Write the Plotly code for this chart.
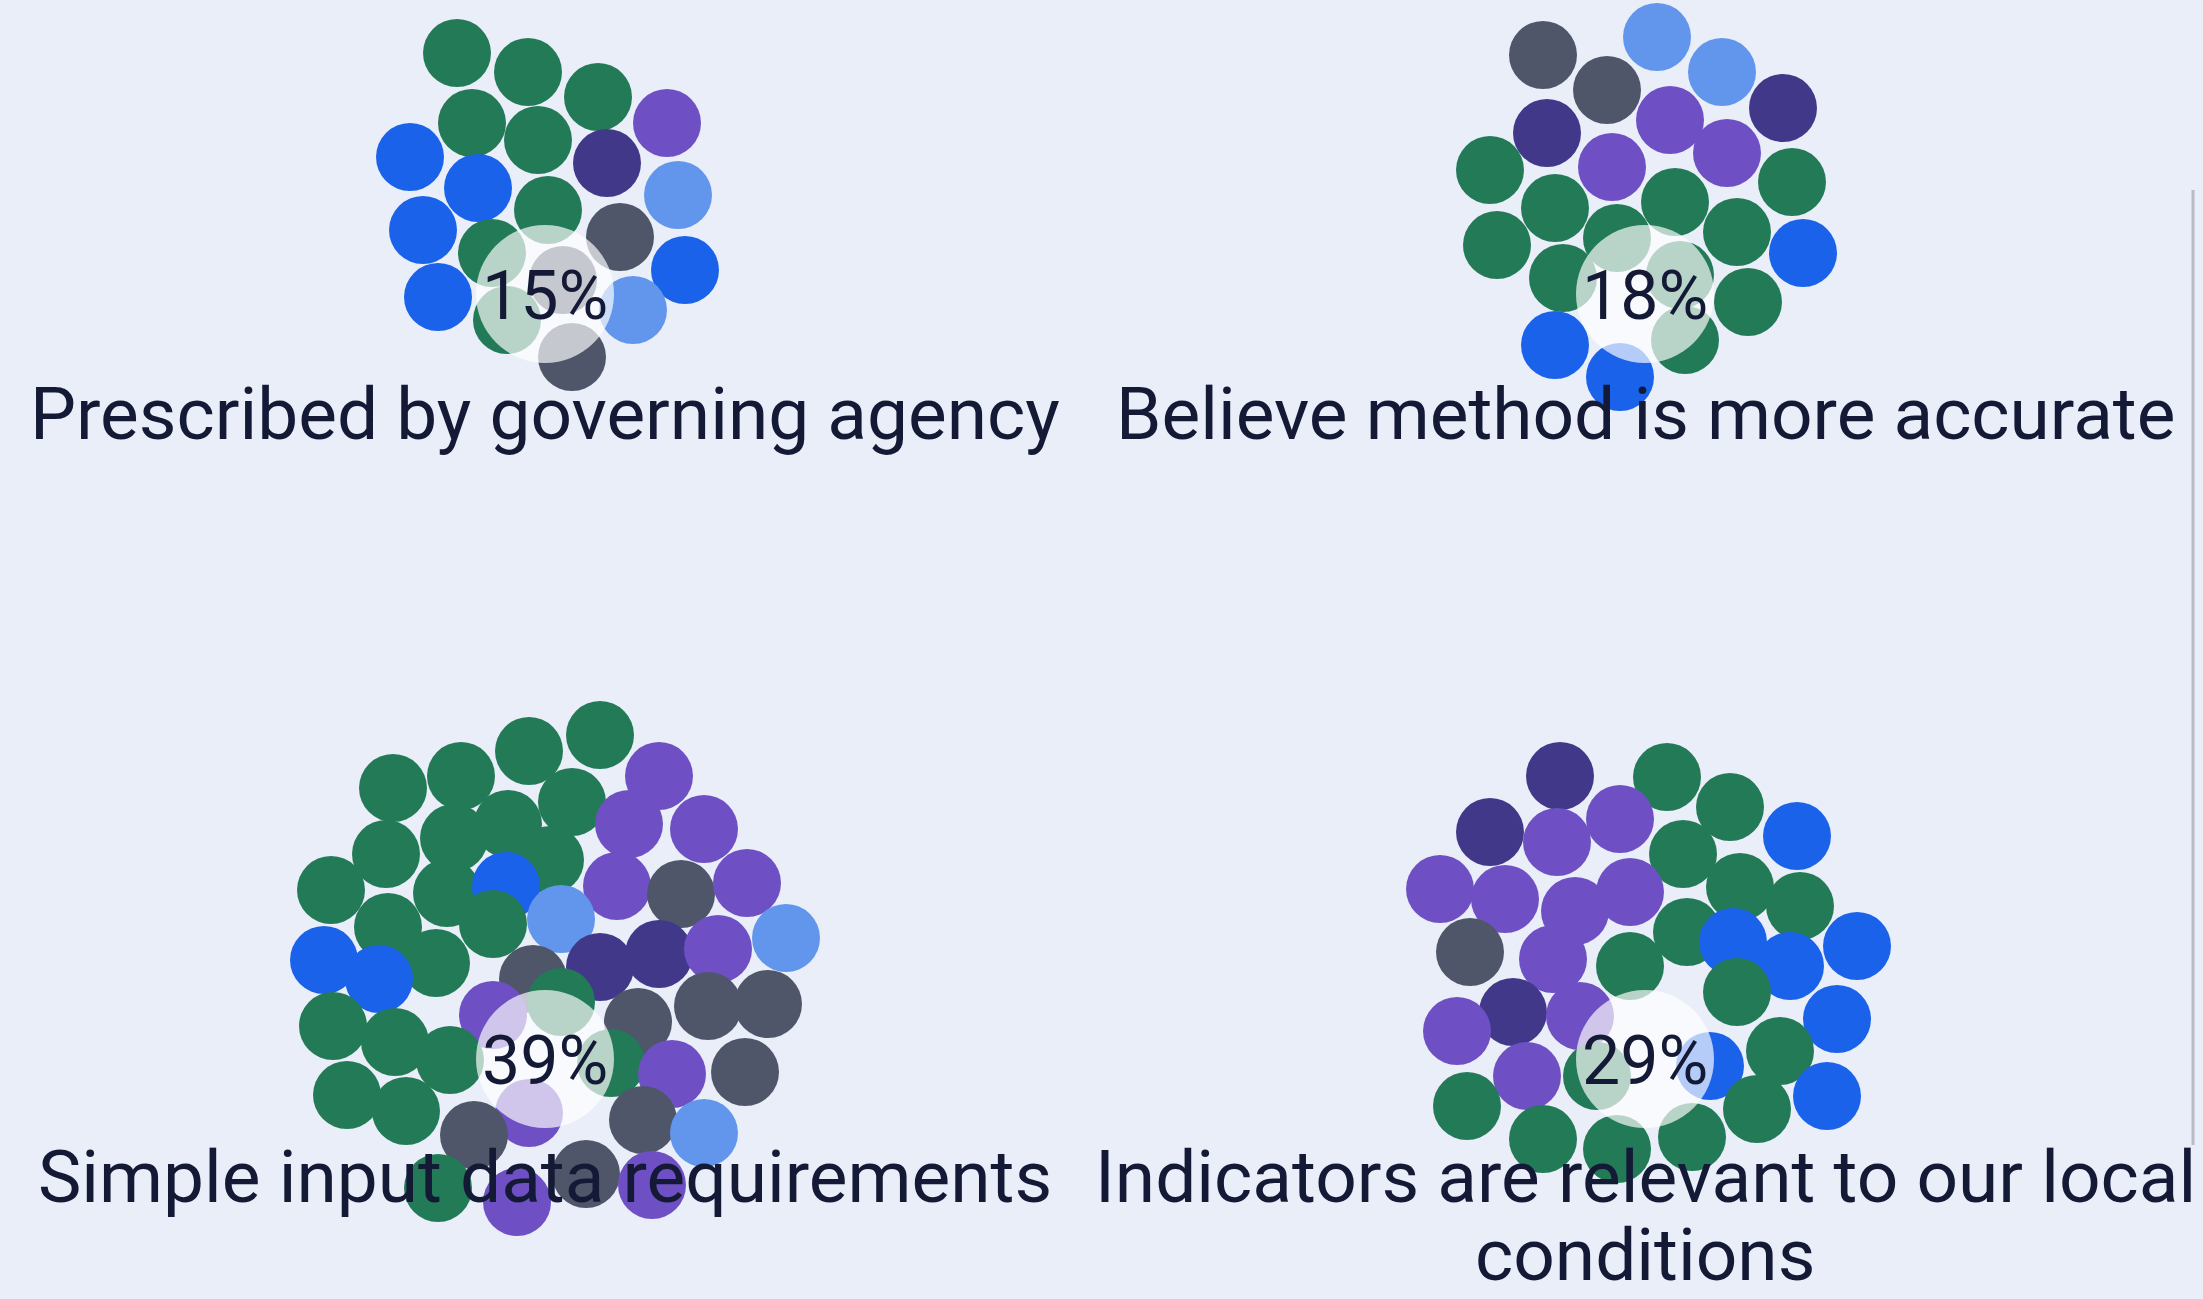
import plotly.graph_objects as go

# ---------------- data ----------------
categories = [
    "Prescribed by governing agency",
    "Believe method is more accurate",
    "Simple input data requirements",
    "Indicators are relevant to our local<br>conditions",
]
percent = [15, 18, 39, 29]

# bubble offsets (relative to each cluster's centre) and colour group
# G=green, B=blue, L=light blue, P=purple, D=dark purple, R=grey
c1_dx = [-88, -17, 53, 122, -73, -7, -135, 62, -67, 133, 3, -122, 75, -53, 140, 18, -107, 88, -38, 27]
c1_dy = [-241, -222, -197, -171, -171, -154, -137, -131, -106, -99, -84, -64, -57, -41, -24, -14, 3, 16, 26, 63]
c1_grp = ["G", "G", "G", "P", "G", "G", "B", "D", "B", "L", "G", "B", "R", "G", "B", "R", "B", "L", "G", "R"]

c2_dx = [-102, 12, -38, 77, -98, 25, 138, -33, 82, -155, -90, 30, 147, -148, -28, 92, 158, -82, 35, 103, -90, 40, -25]
c2_dy = [-239, -257, -204, -222, -161, -174, -186, -127, -141, -124, -86, -92, -112, -49, -56, -62, -41, -16, -19, 8, 51, 46, 83]
c2_grp = ["R", "L", "R", "L", "D", "P", "D", "P", "P", "G", "G", "G", "G", "G", "G", "G", "B", "G", "G", "G", "B", "G", "B"]

c3_dx = [55, -16, -84, -152, 114, 27, -37, -91, 84, 159, -159, 5, -214, -98, -39, 72, 136, 202, -157, -52,
         16, 241, -221, -109, 114, 173, 55, -12, -166, 16, -52, 93, 163, 223, -212, -150, -95, 66, 127, 200,
         -198, -139, -16, 98, -71, 159, 41, -107, -28, 107]
c3_dy = [-324, -308, -283, -271, -283, -257, -235, -221, -235, -230, -205, -199, -169, -166, -173, -173, -165, -176, -132, -135,
         -140, -121, -99, -96, -105, -110, -92, -80, -80, -57, -44, -37, -53, -55, -33, -17, 1, 4, 15, 13,
         36, 52, 54, 61, 76, 74, 115, 129, 143, 126]
c3_grp = ["G", "G", "G", "G", "P", "G", "G", "G", "P", "P", "G", "G", "G", "G", "B", "P", "R", "P", "G", "G",
          "L", "L", "B", "G", "D", "P", "D", "R", "B", "G", "P", "R", "R", "R", "G", "G", "G", "G", "P", "R",
          "G", "G", "P", "R", "R", "L", "R", "G", "P", "P"]

c4_dx = [-85, 22, -155, -88, -25, 85, 152, 38, -205, -140, -15, -70, 95, 155, -175, -92, 42, 88, 145, 212,
         -15, 92, -132, -188, -65, 192, 135, 65, -118, -48, -178, 182, 112, -102, -28, 47]
c4_dy = [-283, -282, -227, -217, -240, -252, -223, -205, -170, -160, -167, -148, -172, -153, -107, -100, -127, -117, -93, -113,
         -93, -67, -47, -28, -43, -40, -8, 7, 17, 17, 47, 37, 50, 80, 90, 78]
c4_grp = ["D", "G", "D", "P", "P", "G", "B", "G", "P", "P", "P", "P", "G", "G", "R", "P", "G", "B", "B", "B",
          "G", "G", "D", "P", "P", "B", "G", "B", "P", "G", "G", "B", "G", "G", "G", "G"]

# ---------------- style ----------------
W, H = 2203, 1299
BG = "#e9eef8"
TEXT = "#141a36"
FONT = "Roboto"
palette = {
    "G": "#237a57",
    "B": "#1a62ea",
    "L": "#6196ec",
    "P": "#6e50c4",
    "D": "#41388a",
    "R": "#4f5669",
}
col_x = [545, 1645]
row_y = [294, 1059]
BUBBLE = 68
CORE = 138

clusters = [
    (c1_dx, c1_dy, c1_grp),
    (c2_dx, c2_dy, c2_grp),
    (c3_dx, c3_dy, c3_grp),
    (c4_dx, c4_dy, c4_grp),
]

fig = go.Figure()
annotations = []
label_dy = [120, 120, 118, 118]
for i, (dx, dy, grp) in enumerate(clusters):
    cx = col_x[i % 2]
    cy = row_y[i // 2]
    fig.add_trace(go.Scatter(
        x=[cx + v for v in dx], y=[cy + v for v in dy],
        mode="markers",
        marker=dict(size=BUBBLE, color=[palette[g] for g in grp], line=dict(width=0), opacity=1),
        hoverinfo="skip", showlegend=False,
    ))
    fig.add_trace(go.Scatter(
        x=[cx], y=[cy], mode="markers",
        marker=dict(size=CORE, color="rgba(255,255,255,0.68)", line=dict(width=0)),
        hoverinfo="skip", showlegend=False,
    ))
    annotations.append(dict(
        x=cx, y=cy + 2, xref="x", yref="y", text=f"{percent[i]}%", showarrow=False,
        font=dict(family=FONT, size=68, color=TEXT), xanchor="center", yanchor="middle",
    ))
    lines = categories[i].split("<br>")
    for k, line in enumerate(lines):
        annotations.append(dict(
            x=cx, y=cy + label_dy[i] + k * 78, xref="x", yref="y", text=line, showarrow=False,
            font=dict(family=FONT, size=73, color=TEXT), xanchor="center", yanchor="middle",
        ))

fig.update_layout(
    width=W, height=H,
    margin=dict(l=0, r=0, t=0, b=0),
    paper_bgcolor=BG, plot_bgcolor=BG,
    xaxis=dict(range=[0, W], visible=False, fixedrange=True),
    yaxis=dict(range=[H, 0], visible=False, fixedrange=True),
    annotations=annotations,
    shapes=[dict(type="line", xref="paper", yref="paper", x0=2193 / W, x1=2193 / W,
                 y0=1 - 190 / H, y1=1 - 1145 / H, line=dict(color="#b8bcc7", width=3))],
)

fig.write_html(
    "out.html",
    config={"displayModeBar": False},
    post_script="document.body.style.margin='0px';document.body.style.overflow='hidden';"
                "document.body.style.backgroundColor='#e9eef8';",
)
